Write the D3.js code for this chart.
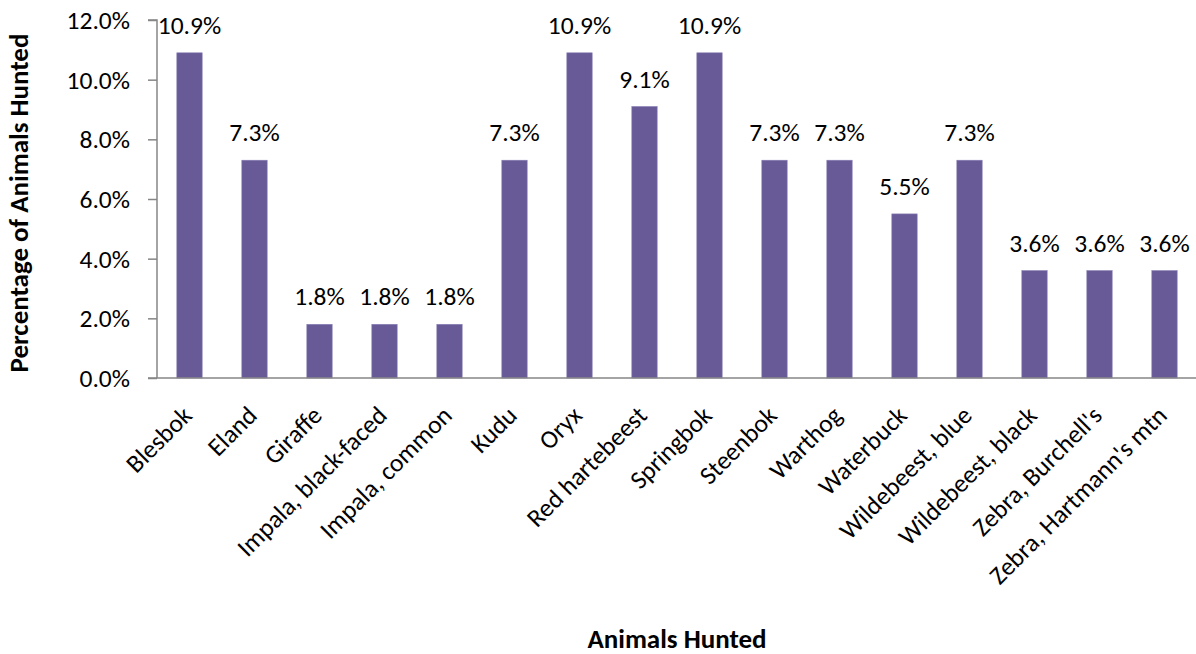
<!DOCTYPE html>
<html><head><meta charset="utf-8">
<script src="https://cdn.jsdelivr.net/npm/d3@7"></script>
<style>
html,body{margin:0;padding:0;background:#fff;}
svg{display:block;font-family:Carlito,Lato,sans-serif;}
</style></head>
<body>
<svg id="chart" width="1196" height="654"></svg>
<script>
const categories = ["Blesbok","Eland","Giraffe","Impala, black-faced","Impala, common","Kudu","Oryx","Red hartebeest","Springbok","Steenbok","Warthog","Waterbuck","Wildebeest, blue","Wildebeest, black","Zebra, Burchell's","Zebra, Hartmann's mtn"];
const values = [10.9,7.3,1.8,1.8,1.8,7.3,10.9,9.1,10.9,7.3,7.3,5.5,7.3,3.6,3.6,3.6];
const yTicks = [0,2,4,6,8,10,12];
const yTitle = "Percentage of Animals Hunted";
const xTitle = "Animals Hunted";

(function(){
const svg = d3.select("#chart");
const mL = 157, mR = 1197, mT = 20, mB = 378;
const x = d3.scaleBand().domain(categories).range([mL, mR]).paddingInner(0.61).paddingOuter(0.305);
const y = d3.scaleLinear().domain([0, 12]).range([mB, mT]);
const axisColor = "#868686";
const fs = 25.5;
const fsT = 27;

// y axis
const ya = svg.append("g").attr("transform", `translate(${mL},0)`)
  .call(d3.axisLeft(y).tickValues(yTicks).tickSize(9).tickPadding(18).tickFormat(d => d.toFixed(1) + "%"));
ya.attr("font-family", null).attr("font-size", null);
ya.select(".domain").attr("stroke", axisColor).attr("stroke-width", 1.5).attr("d", `M-9,${mT}H0V${mB}`);
ya.selectAll(".tick line").attr("stroke", axisColor).attr("stroke-width", 1.5);
ya.selectAll(".tick text").attr("font-size", fs).attr("fill", "#000").attr("dy", "0.33em");

// bars
svg.append("g").selectAll("rect").data(categories).join("rect")
  .attr("x", d => x(d)).attr("width", x.bandwidth())
  .attr("y", (d, i) => y(values[i])).attr("height", (d, i) => mB - y(values[i]))
  .attr("fill", "#675a97").attr("stroke", "#8a7fb5").attr("stroke-width", 0.6);

// x axis line
svg.append("line").attr("x1", mL - 9).attr("x2", mR).attr("y1", mB).attr("y2", mB)
  .attr("stroke", axisColor).attr("stroke-width", 1.5);

// data labels
svg.append("g").selectAll("text").data(categories).join("text")
  .attr("x", d => x(d) + x.bandwidth() / 2)
  .attr("y", (d, i) => y(values[i]) - 19)
  .attr("text-anchor", "middle").attr("font-size", fs).attr("fill", "#000")
  .text((d, i) => values[i].toFixed(1) + "%");

// category labels
svg.append("g").selectAll("text").data(categories).join("text")
  .attr("transform", d => `translate(${x(d) + x.bandwidth() / 2 + 4},${mB + 39}) rotate(-45)`)
  .attr("text-anchor", "end").attr("font-size", fs).attr("fill", "#000")
  .text(d => d);

// titles
svg.append("text").attr("transform", `translate(28,${(mT + mB) / 2 + 4}) rotate(-90)`)
  .attr("text-anchor", "middle").attr("font-size", fsT).attr("font-weight", "bold").text(yTitle);
svg.append("text").attr("x", 677).attr("y", 648)
  .attr("text-anchor", "middle").attr("font-size", fsT).attr("font-weight", "bold").text(xTitle);
})();
</script>
</body></html>
